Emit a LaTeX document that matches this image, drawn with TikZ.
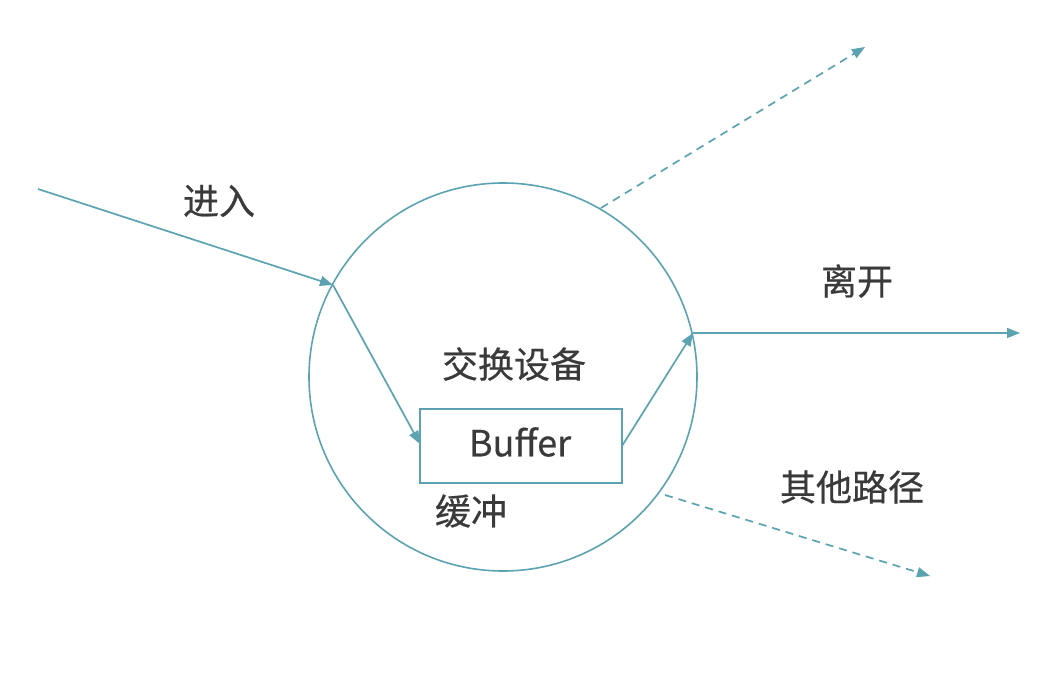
\documentclass[tikz,border=0pt]{standalone}
\usepackage{fontspec}
\setmainfont{Noto Sans CJK SC}[FakeBold=0.5]
\usetikzlibrary{arrows.meta}
\definecolor{teal}{HTML}{5BA3B0}
\definecolor{txt}{HTML}{3A3A3A}
\tikzset{
  conn/.style={draw=teal, line width=1.7pt, -{Triangle[length=13pt,width=10pt]}},
  dconn/.style={conn, dash pattern=on 8pt off 6pt},
  lbl/.style={text=txt, font=\fontsize{36}{40}\selectfont, inner sep=0pt},
}
\begin{document}
\begin{tikzpicture}[x=1pt,y=-1pt]
\useasboundingbox (0,0) rectangle (1060,679);
\node[draw=teal, line width=1.6pt, circle, minimum size=388pt, inner sep=0pt] (dev) at (503,377) {};
\node[draw=teal, line width=1.6pt, minimum width=202pt, minimum height=74pt, inner sep=0pt, lbl] (buf) at (521,446) {};
\node[lbl] (buft) at (520,442) {Buffer};
\coordinate (in0) at (38,189);
\coordinate (p1) at (333,285);
\coordinate (bin) at (420,444);
\coordinate (bout) at (622,446);
\coordinate (p2) at (693,333);
\coordinate (out) at (1020,333);
\coordinate (d1s) at (601,208);
\coordinate (d1e) at (865,47);
\coordinate (d2s) at (665,495);
\coordinate (d2e) at (930,576);
\draw[conn] (in0) -- (p1);
\draw[conn] (p1) -- (bin);
\draw[conn] (bout) -- (p2);
\draw[conn] (p2) -- (out);
\draw[dconn] (d1s) -- (d1e);
\draw[dconn] (d2s) -- (d2e);
\node[lbl] (l1) at (219,201) {进入};
\node[lbl] (l2) at (857,281) {离开};
\node[lbl] (l3) at (514,364) {交换设备};
\node[lbl] (l4) at (471,511) {缓冲};
\node[lbl] (l5) at (852,487) {其他路径};
\end{tikzpicture}
\end{document}
